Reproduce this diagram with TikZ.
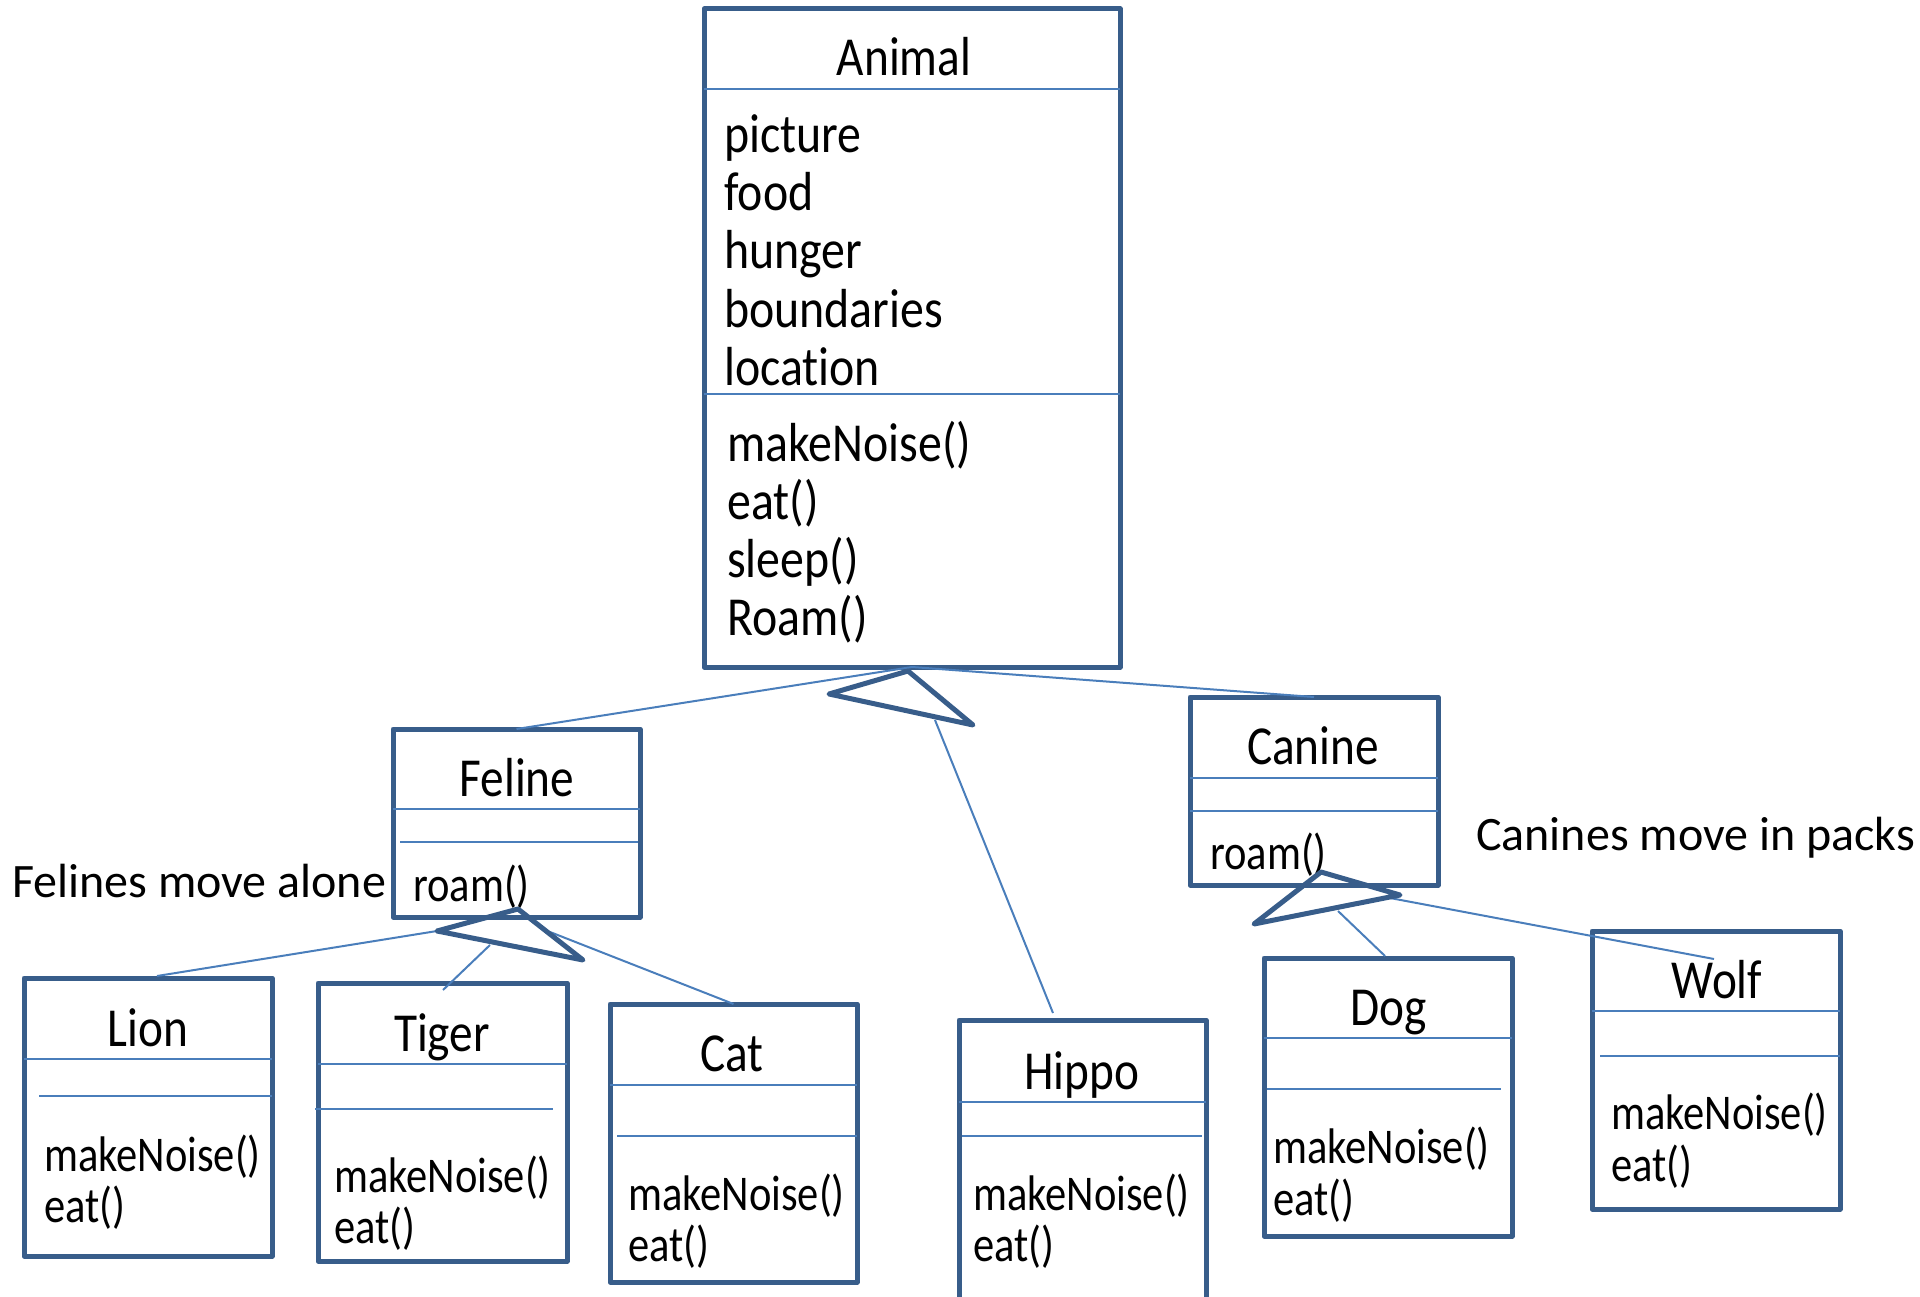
\documentclass[tikz,border=0pt]{standalone}
\usepackage{fontspec}
\setmainfont{Carlito}[Ligatures=NoCommon]
\newfontfamily\namefont[FakeStretch=0.86,Ligatures=NoCommon]{Carlito}
\newfontfamily\bigfont[FakeStretch=0.87,Ligatures=NoCommon]{Carlito}
\newfontfamily\boxfont[FakeStretch=0.85,Ligatures=NoCommon]{Carlito}
\definecolor{boxline}{HTML}{385D8A}
\definecolor{thinline}{HTML}{4A7EBB}

\begin{document}
\begin{tikzpicture}[x=1pt,y=-1pt,
  classbox/.style={draw=boxline, line width=5pt, line join=round, inner sep=0pt, outer sep=0pt, anchor=north west},
  divider/.style={draw=thinline, line width=2pt},
  link/.style={draw=thinline, line width=2pt},
  gentri/.style={draw=boxline, line width=5pt, line join=round},
  cname/.style={font=\namefont\fontsize{55}{58}\selectfont, anchor=base, inner sep=0pt},
  bigmember/.style={font=\bigfont\fontsize{55}{58}\selectfont, anchor=base west, inner sep=0pt},
  member/.style={font=\boxfont\fontsize{50}{51}\selectfont, anchor=base west, inner sep=0pt},
  note/.style={font=\fontsize{48}{57}\selectfont, anchor=base west, inner sep=0pt}]

\useasboundingbox (0,0) rectangle (1920,1297);
\clip (0,0) rectangle (1920,1297);

% ---------- Animal ----------
\node[classbox, minimum width=416pt, minimum height=658pt] (animal) at (704,9) {};
\draw[divider] (704,89) -- (1120,89);
\draw[divider] (704,394) -- (1120,394);
\node[cname] (animalname) at (904,76) {Animal};
\foreach \t [count=\i] in {picture,food,hunger,boundaries,location}
  \node[bigmember] (attr\i) at (724,95+58*\i) {\t};
\foreach \t [count=\i] in {{makeNoise()},{eat()},{sleep()},{Roam()}}
  \node[bigmember] (meth\i) at (727,403+58*\i) {\t};

% ---------- Feline ----------
\node[classbox, minimum width=247pt, minimum height=188pt] (feline) at (393,729) {};
\draw[divider] (393,809) -- (640,809);
\draw[divider] (400,842) -- (638,842);
\node[cname] (felinename) at (517,796) {Feline};
\node[member] (felineroam) at (413,901) {roam()};

% ---------- Canine ----------
\node[classbox, minimum width=248pt, minimum height=188pt] (canine) at (1190,697) {};
\draw[divider] (1190,778) -- (1438,778);
\draw[divider] (1190,811) -- (1438,811);
\node[cname] (caninename) at (1313,764) {Canine};
\node[member] (canineroam) at (1210,869) {roam()};

% ---------- leaf classes ----------
\node[classbox, minimum width=248pt, minimum height=278pt] (lion) at (24,978) {};
\draw[divider] (24,1059) -- (272,1059);
\draw[divider] (39,1096) -- (272,1096);
\node[cname] (lionname) at (148,1046) {Lion};
\node[member] (lionm1) at (44,1171) {makeNoise()};
\node[member] (lionm2) at (44,1222) {eat()};

\node[classbox, minimum width=249pt, minimum height=278pt] (tiger) at (318,983) {};
\draw[divider] (318,1064) -- (567,1064);
\draw[divider] (315,1109) -- (553,1109);
\node[cname] (tigername) at (442,1051) {Tiger};
\node[member] (tigerm1) at (334,1192) {makeNoise()};
\node[member] (tigerm2) at (334,1243) {eat()};

\node[classbox, minimum width=247pt, minimum height=278pt] (cat) at (610,1004) {};
\draw[divider] (610,1085) -- (857,1085);
\draw[divider] (617,1136) -- (857,1136);
\node[cname] (catname) at (732,1071) {Cat};
\node[member] (catm1) at (628,1210) {makeNoise()};
\node[member] (catm2) at (628,1261) {eat()};

\node[classbox, minimum width=247pt, minimum height=330pt] (hippo) at (959,1020) {};
\draw[divider] (959,1102) -- (1206,1102);
\draw[divider] (962,1136) -- (1202,1136);
\node[cname] (hipponame) at (1082,1089) {Hippo};
\node[member] (hippom1) at (973,1210) {makeNoise()};
\node[member] (hippom2) at (973,1261) {eat()};

\node[classbox, minimum width=248pt, minimum height=278pt] (dog) at (1264,958) {};
\draw[divider] (1264,1038) -- (1512,1038);
\draw[divider] (1267,1089) -- (1501,1089);
\node[cname] (dogname) at (1389,1025) {Dog};
\node[member] (dogm1) at (1273,1163) {makeNoise()};
\node[member] (dogm2) at (1273,1215) {eat()};

\node[classbox, minimum width=248pt, minimum height=278pt] (wolf) at (1592,931) {};
\draw[divider] (1592,1011) -- (1840,1011);
\draw[divider] (1600,1056) -- (1840,1056);
\node[cname] (wolfname) at (1717,998) {Wolf};
\node[member] (wolfm1) at (1611,1129) {makeNoise()};
\node[member] (wolfm2) at (1611,1181) {eat()};

% ---------- notes ----------
\node[note] (felnote) at (12,897) {Felines move alone};
\node[note] (cannote) at (1476,850) {Canines move in packs};

% ---------- generalisation triangles ----------
\coordinate (tA) at (908,671);
\coordinate (tAl) at (829,694);
\coordinate (tAr) at (973,725);
\coordinate (tF) at (518,909);
\coordinate (tFl) at (437,931);
\coordinate (tFr) at (583,960);
\coordinate (tC) at (1321,872);
\coordinate (tCl) at (1254,924);
\coordinate (tCr) at (1400,895);

% connector ends
\coordinate (hippoTop) at (1053,1013);
\coordinate (hippoFoot) at (935,720);
\coordinate (lionTop) at (157,976);
\coordinate (tigerTop) at (443,990);
\coordinate (tigerFoot) at (490,945);
\coordinate (catFoot) at (550,932);
\coordinate (dogTop) at (1385,956);
\coordinate (dogFoot) at (1338,911);
\coordinate (wolfEnd) at (1714,959);
\coordinate (wolfFoot) at (1390,898);

% ---------- inheritance links ----------
\draw[link] (animal.south) -- (feline.north);
\draw[link] (animal.south) -- (canine.north);
\draw[link] (hippoFoot) -- (hippoTop);
\draw[link] (tFl) -- (lionTop);
\draw[link] (tigerFoot) -- (tigerTop);
\draw[link] (catFoot) -- (cat.north);
\draw[link] (dogFoot) -- (dogTop);
\draw[link] (wolfFoot) -- (wolfEnd);

\draw[gentri] (tA) -- (tAl) -- (tAr) -- cycle;
\draw[gentri] (tF) -- (tFl) -- (tFr) -- cycle;
\draw[gentri] (tC) -- (tCl) -- (tCr) -- cycle;
\end{tikzpicture}
\end{document}
